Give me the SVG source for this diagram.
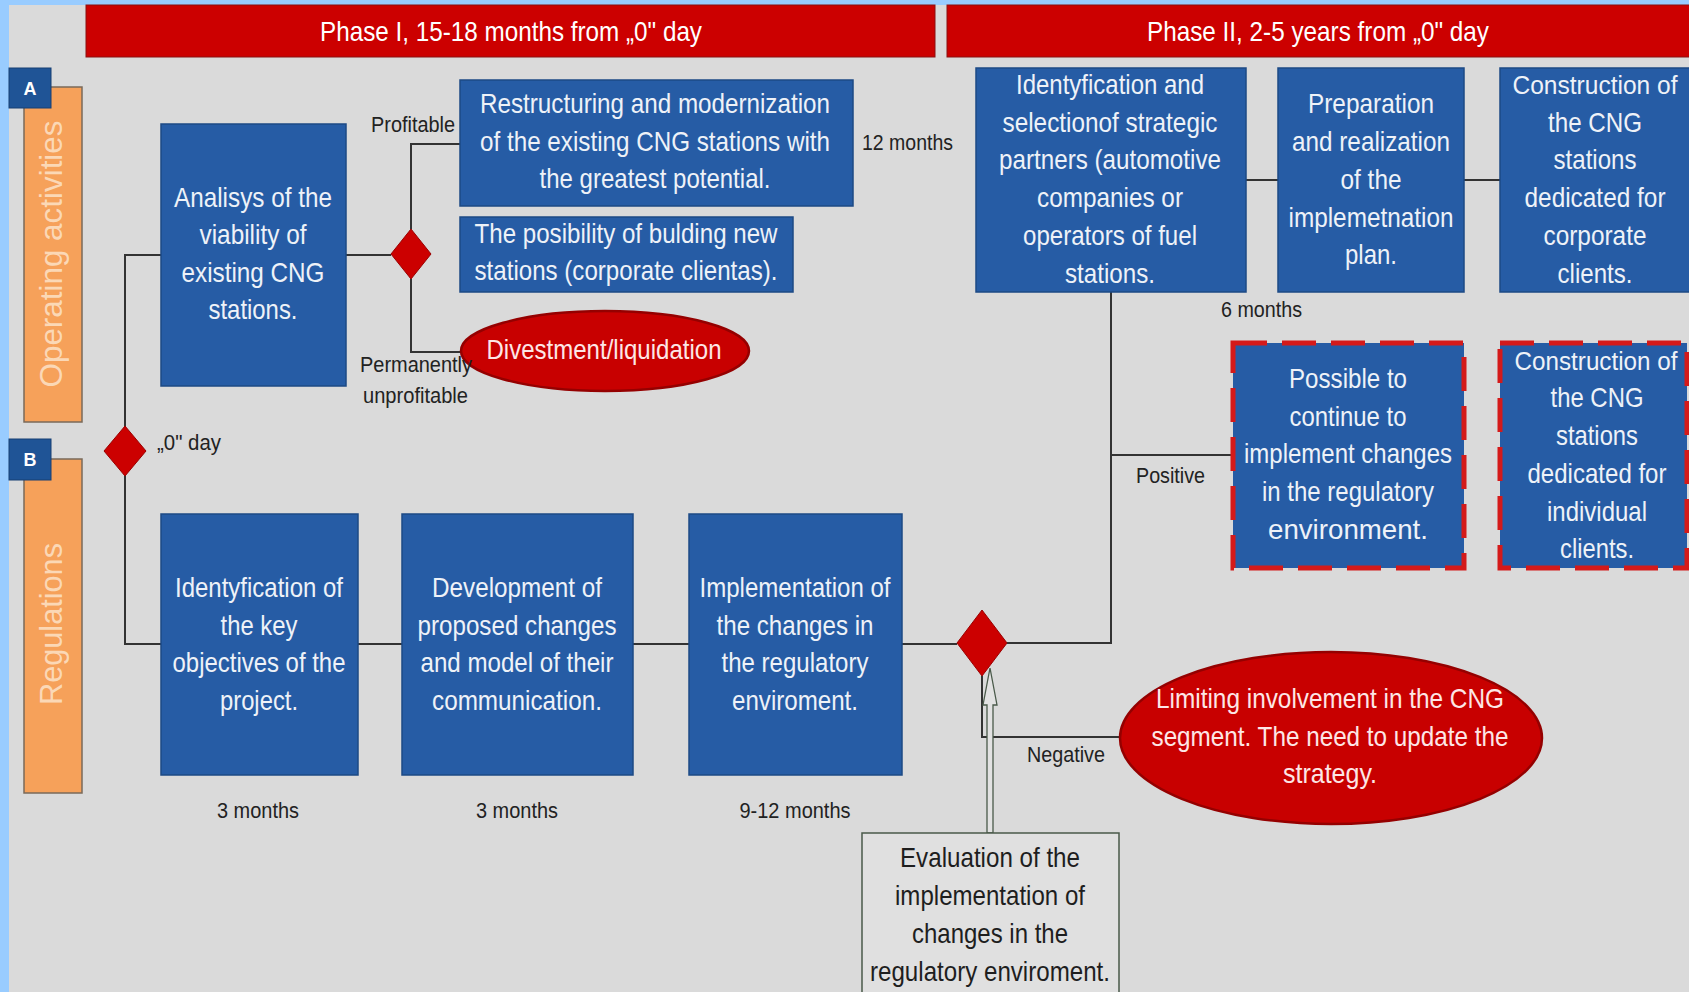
<svg xmlns="http://www.w3.org/2000/svg" width="1689" height="992" viewBox="0 0 1689 992">
<style>
text{font-family:"Liberation Sans",Arial,sans-serif}
.box{fill:#265ca5;stroke:#1d4a85;stroke-width:1.5}
.dbox{fill:#265ca5;stroke:#d41a1a;stroke-width:5;stroke-dasharray:34 15}
.bt{font-size:28px;fill:#eef2f8;text-anchor:middle}
.bs{font-size:26px}
.et{font-size:28px;fill:#1e1e1e;text-anchor:middle}
.lbl{font-size:22px;fill:#222}
.lc{font-size:22px;fill:#222;text-anchor:middle}
.ph{font-size:28px;fill:#ffffff;text-anchor:middle}
.rt{font-size:31px;fill:#fbd8b6;text-anchor:middle}
.conn{stroke:#333;stroke-width:2;fill:none}
.dia{fill:#cc0000;stroke:#9a0000;stroke-width:1}
.ell{fill:#c80000;stroke:#950000;stroke-width:2.5}
.redt{font-size:28px;fill:#fde6e6;text-anchor:middle}
.orange{fill:#f6a15a;stroke:#7a6a5a;stroke-width:1.5}
.badge{fill:#1f5496;stroke:#173f72;stroke-width:1}
.bl{font-size:18px;font-weight:bold;fill:#fff;text-anchor:middle}
.phase{fill:#cc0000;stroke:#8a1010;stroke-width:1}
</style>
<rect x="0" y="0" width="1689" height="992" fill="#99ccff"/>
<rect x="9" y="5" width="1680" height="987" fill="#dadada"/>

<g id="phase1">
<rect class="phase" x="86" y="5" width="849" height="52"/>
<text class="ph" x="511" y="41" textLength="382" lengthAdjust="spacingAndGlyphs">Phase I, 15-18 months from „0" day</text>
</g>
<g id="phase2">
<rect class="phase" x="947" y="5" width="745" height="52"/>
<text class="ph" x="1318" y="41" textLength="342" lengthAdjust="spacingAndGlyphs">Phase II, 2-5 years from „0" day</text>
</g>

<g id="laneA">
<rect class="orange" x="24" y="87" width="58" height="335"/>
<text class="rt" transform="translate(62,254) rotate(-90)" textLength="267" lengthAdjust="spacingAndGlyphs">Operating activities</text>
<rect class="badge" x="9" y="68" width="42" height="40"/>
<text class="bl" x="30" y="95">A</text>
</g>
<g id="laneB">
<rect class="orange" x="24" y="459" width="58" height="334"/>
<text class="rt" transform="translate(62,624) rotate(-90)" textLength="162" lengthAdjust="spacingAndGlyphs">Regulations</text>
<rect class="badge" x="9" y="439" width="42" height="41"/>
<text class="bl" x="30" y="466">B</text>
</g>

<g id="connectors">
<path class="conn" d="M161,255 H125 V644 H161"/>
<path class="conn" d="M346,255 H391"/>
<path class="conn" d="M411,229 V144 H460"/>
<path class="conn" d="M411,279 V352 H463"/>
<path class="conn" d="M358,644 H402"/>
<path class="conn" d="M633,644 H689"/>
<path class="conn" d="M902,644 H957"/>
<path class="conn" d="M1007,643 H1111 V292"/>
<path class="conn" d="M1111,455 H1233"/>
<path class="conn" d="M1246,180 H1278"/>
<path class="conn" d="M1464,180 H1500"/>
<path class="conn" d="M982,676 V737 H1120"/>
<polygon points="987,833 987,705 983,705 990,668 997,705 993,705 993,833" fill="#e2e2e2" stroke="#4a5a4a" stroke-width="1.3"/>
</g>

<g id="day0">
<polygon class="dia" points="125,426 146,451 125,476 104,451"/>
<text class="lbl" x="157" y="450" textLength="64" lengthAdjust="spacingAndGlyphs">„0" day</text>
</g>

<g id="analysis">
<rect class="box" x="161" y="124" width="185" height="262"/>
<text class="bt" x="253" y="207" textLength="158" lengthAdjust="spacingAndGlyphs">Analisys of the</text>
<text class="bt" x="253" y="244" textLength="107" lengthAdjust="spacingAndGlyphs">viability of</text>
<text class="bt" x="253" y="282" textLength="143" lengthAdjust="spacingAndGlyphs">existing CNG</text>
<text class="bt" x="253" y="319" textLength="89" lengthAdjust="spacingAndGlyphs">stations.</text>
</g>

<g id="decision1">
<polygon class="dia" points="411,229 431,254 411,279 391,254"/>
<text class="lbl" x="371" y="132" textLength="84" lengthAdjust="spacingAndGlyphs">Profitable</text>
</g>

<g id="restructuring">
<rect class="box" x="460" y="80" width="393" height="126"/>
<text class="bt" x="655" y="113" textLength="350" lengthAdjust="spacingAndGlyphs">Restructuring and modernization</text>
<text class="bt" x="655" y="151" textLength="350" lengthAdjust="spacingAndGlyphs">of the existing CNG stations with</text>
<text class="bt" x="655" y="188" textLength="231" lengthAdjust="spacingAndGlyphs">the greatest potential.</text>
<text class="lbl" x="862" y="150" textLength="91" lengthAdjust="spacingAndGlyphs">12 months</text>
</g>

<g id="posibility">
<rect class="box" x="460" y="217" width="333" height="75"/>
<text class="bt" x="626" y="243" textLength="303" lengthAdjust="spacingAndGlyphs">The posibility of bulding new</text>
<text class="bt" x="626" y="280" textLength="303" lengthAdjust="spacingAndGlyphs">stations (corporate clientas).</text>
</g>

<g id="divestment">
<ellipse class="ell" cx="605" cy="351" rx="144" ry="40"/>
<text class="redt" x="604" y="359" textLength="235" lengthAdjust="spacingAndGlyphs">Divestment/liquidation</text>
<text class="lbl" x="360" y="372" textLength="112" lengthAdjust="spacingAndGlyphs">Permanently</text>
<text class="lbl" x="363" y="403" textLength="105" lengthAdjust="spacingAndGlyphs">unprofitable</text>
</g>

<g id="keyobjectives">
<rect class="box" x="161" y="514" width="197" height="261"/>
<text class="bt" x="259" y="597" textLength="168" lengthAdjust="spacingAndGlyphs">Identyfication of</text>
<text class="bt" x="259" y="635" textLength="77" lengthAdjust="spacingAndGlyphs">the key</text>
<text class="bt" x="259" y="672" textLength="173" lengthAdjust="spacingAndGlyphs">objectives of the</text>
<text class="bt" x="259" y="710" textLength="78" lengthAdjust="spacingAndGlyphs">project.</text>
<text class="lc" x="258" y="818" textLength="82" lengthAdjust="spacingAndGlyphs">3 months</text>
</g>

<g id="development">
<rect class="box" x="402" y="514" width="231" height="261"/>
<text class="bt" x="517" y="597" textLength="170" lengthAdjust="spacingAndGlyphs">Development of</text>
<text class="bt" x="517" y="635" textLength="199" lengthAdjust="spacingAndGlyphs">proposed changes</text>
<text class="bt" x="517" y="672" textLength="193" lengthAdjust="spacingAndGlyphs">and model of their</text>
<text class="bt" x="517" y="710" textLength="170" lengthAdjust="spacingAndGlyphs">communication.</text>
<text class="lc" x="517" y="818" textLength="82" lengthAdjust="spacingAndGlyphs">3 months</text>
</g>

<g id="implementation">
<rect class="box" x="689" y="514" width="213" height="261"/>
<text class="bt" x="795" y="597" textLength="191" lengthAdjust="spacingAndGlyphs">Implementation of</text>
<text class="bt" x="795" y="635" textLength="157" lengthAdjust="spacingAndGlyphs">the changes in</text>
<text class="bt" x="795" y="672" textLength="147" lengthAdjust="spacingAndGlyphs">the regulatory</text>
<text class="bt" x="795" y="710" textLength="126" lengthAdjust="spacingAndGlyphs">enviroment.</text>
<text class="lc" x="795" y="818" textLength="111" lengthAdjust="spacingAndGlyphs">9-12 months</text>
</g>

<g id="decision2">
<polygon class="dia" points="982,610 1007,643 982,676 957,643"/>
</g>

<g id="evaluation">
<rect x="862" y="833" width="257" height="175" fill="#e0e0e0" stroke="#4a5a4a" stroke-width="1.5"/>
<text class="et" x="990" y="867" textLength="180" lengthAdjust="spacingAndGlyphs">Evaluation of the</text>
<text class="et" x="990" y="905" textLength="190" lengthAdjust="spacingAndGlyphs">implementation of</text>
<text class="et" x="990" y="943" textLength="156" lengthAdjust="spacingAndGlyphs">changes in the</text>
<text class="et" x="990" y="981" textLength="240" lengthAdjust="spacingAndGlyphs">regulatory enviroment.</text>
</g>

<g id="limiting">
<ellipse class="ell" cx="1331" cy="738" rx="211" ry="86"/>
<text class="redt" x="1330" y="708" textLength="348" lengthAdjust="spacingAndGlyphs">Limiting involvement in the CNG</text>
<text class="redt" x="1330" y="746" textLength="357" lengthAdjust="spacingAndGlyphs">segment. The need to update the</text>
<text class="redt" x="1330" y="783" textLength="94" lengthAdjust="spacingAndGlyphs">strategy.</text>
<text class="lbl" x="1027" y="762" textLength="78" lengthAdjust="spacingAndGlyphs">Negative</text>
</g>

<g id="partners">
<rect class="box" x="976" y="68" width="270" height="224"/>
<text class="bt" x="1110" y="94" textLength="188" lengthAdjust="spacingAndGlyphs">Identyfication and</text>
<text class="bt" x="1110" y="132" textLength="215" lengthAdjust="spacingAndGlyphs">selectionof strategic</text>
<text class="bt" x="1110" y="169" textLength="222" lengthAdjust="spacingAndGlyphs">partners (automotive</text>
<text class="bt" x="1110" y="207" textLength="146" lengthAdjust="spacingAndGlyphs">companies or</text>
<text class="bt" x="1110" y="245" textLength="174" lengthAdjust="spacingAndGlyphs">operators of fuel</text>
<text class="bt" x="1110" y="283" textLength="90" lengthAdjust="spacingAndGlyphs">stations.</text>
</g>

<g id="preparation">
<rect class="box" x="1278" y="68" width="186" height="224"/>
<text class="bt" x="1371" y="113" textLength="126" lengthAdjust="spacingAndGlyphs">Preparation</text>
<text class="bt" x="1371" y="151" textLength="158" lengthAdjust="spacingAndGlyphs">and realization</text>
<text class="bt" x="1371" y="189" textLength="61" lengthAdjust="spacingAndGlyphs">of the</text>
<text class="bt" x="1371" y="227" textLength="165" lengthAdjust="spacingAndGlyphs">implemetnation</text>
<text class="bt" x="1371" y="264" textLength="52" lengthAdjust="spacingAndGlyphs">plan.</text>
<text class="lbl" x="1221" y="317" textLength="81" lengthAdjust="spacingAndGlyphs">6 months</text>
</g>

<g id="corporate">
<rect class="box" x="1500" y="68" width="200" height="224"/>
<text class="bt bs" x="1595" y="94" textLength="165" lengthAdjust="spacingAndGlyphs">Construction of</text>
<text class="bt" x="1595" y="132" textLength="94" lengthAdjust="spacingAndGlyphs">the CNG</text>
<text class="bt" x="1595" y="169" textLength="83" lengthAdjust="spacingAndGlyphs">stations</text>
<text class="bt" x="1595" y="207" textLength="141" lengthAdjust="spacingAndGlyphs">dedicated for</text>
<text class="bt" x="1595" y="245" textLength="103" lengthAdjust="spacingAndGlyphs">corporate</text>
<text class="bt" x="1595" y="283" textLength="75" lengthAdjust="spacingAndGlyphs">clients.</text>
</g>

<g id="possible">
<rect class="dbox" x="1233" y="343" width="231" height="225"/>
<text class="bt" x="1348" y="388" textLength="118" lengthAdjust="spacingAndGlyphs">Possible to</text>
<text class="bt" x="1348" y="426" textLength="117" lengthAdjust="spacingAndGlyphs">continue to</text>
<text class="bt" x="1348" y="463" textLength="208" lengthAdjust="spacingAndGlyphs">implement changes</text>
<text class="bt" x="1348" y="501" textLength="172" lengthAdjust="spacingAndGlyphs">in the regulatory</text>
<text class="bt" x="1348" y="539" textLength="160" lengthAdjust="spacingAndGlyphs">environment.</text>
<text class="lbl" x="1136" y="483" textLength="69" lengthAdjust="spacingAndGlyphs">Positive</text>
</g>

<g id="individual">
<rect class="dbox" x="1500" y="343" width="187" height="225"/>
<text class="bt bs" x="1596" y="370" textLength="163" lengthAdjust="spacingAndGlyphs">Construction of</text>
<text class="bt" x="1597" y="407" textLength="93" lengthAdjust="spacingAndGlyphs">the CNG</text>
<text class="bt" x="1597" y="445" textLength="82" lengthAdjust="spacingAndGlyphs">stations</text>
<text class="bt" x="1597" y="483" textLength="139" lengthAdjust="spacingAndGlyphs">dedicated for</text>
<text class="bt" x="1597" y="521" textLength="100" lengthAdjust="spacingAndGlyphs">individual</text>
<text class="bt" x="1597" y="558" textLength="74" lengthAdjust="spacingAndGlyphs">clients.</text>
</g>
</svg>
